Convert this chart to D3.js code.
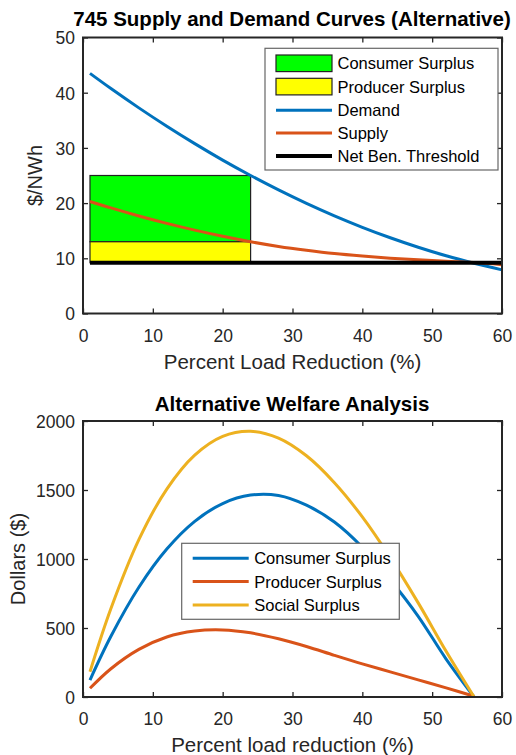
<!DOCTYPE html>
<html>
<head>
<meta charset="utf-8">
<script src="https://cdn.jsdelivr.net/npm/d3@7"></script>
<style>
  body { margin: 0; background: #fff; }
  svg { display: block; font-family: "Liberation Sans", Arial, sans-serif; }
</style>
</head>
<body>
<svg width="516" height="755"></svg>
<script>
// top chart data
const loadPct = [1, 4, 8, 12, 16, 20, 24, 28, 32, 36, 40, 44, 48, 52, 56, 60];
const demand = [43.5, 40.75, 37.25, 33.92, 30.77, 27.79, 25.0, 22.39, 19.95, 17.69, 15.62, 13.72, 12.0, 10.45, 9.1, 7.9];
const supply = [20.3, 19.13, 17.67, 16.33, 15.1, 13.99, 13.0, 12.15, 11.45, 10.85, 10.4, 10.03, 9.72, 9.45, 9.22, 8.85];
const threshold = 9.2;
const optLoad = 24;
const optDemand = 25;
const optSupply = 13;
const startLoad = 1;

// bottom chart data
const welfarePct = [1, 4, 8, 12, 16, 20, 24, 28, 32, 36, 40, 44, 48, 52, 56];
const consumerSurplus = [123, 440, 795, 1072, 1273, 1402, 1463, 1460, 1390, 1268, 1085, 850, 585, 275, 0];
const producerSurplus = [63, 205, 345, 435, 478, 486, 465, 422, 366, 302, 240, 182, 124, 66, 5];
const socialSurplus = [183, 641, 1140, 1507, 1753, 1889, 1926, 1876, 1748, 1553, 1305, 1010, 682, 331, 0];

const xTicks = [0, 10, 20, 30, 40, 50, 60];
const yTicksTop = [0, 10, 20, 30, 40, 50];
const yTicksBottom = [0, 500, 1000, 1500, 2000];

const blue = "#0072BD", orange = "#D95319", gold = "#EDB120";
const axisColor = "#262626";

const svg = d3.select("svg");

// draws a matlab style box with inward ticks on every side
const drawBox = (g, x, y, yTicks, w, h) => {
    g.append("g")
        .attr("transform", `translate(0, ${h})`)
        .call(d3.axisBottom(x).tickValues(xTicks).tickSizeInner(-5).tickSizeOuter(0).tickFormat(d3.format("d")))
        .call((a) => a.selectAll("text").attr("y", 28).attr("dy", null));
    g.append("g")
        .call(d3.axisTop(x).tickValues(xTicks).tickSizeInner(-5).tickSizeOuter(0).tickFormat(""));
    g.append("g")
        .call(d3.axisLeft(y).tickValues(yTicks).tickSizeInner(-5).tickSizeOuter(0).tickFormat(d3.format("d")))
        .call((a) => a.selectAll("text").attr("x", -8).attr("dy", "0.36em"));
    g.append("g")
        .attr("transform", `translate(${w}, 0)`)
        .call(d3.axisRight(y).tickValues(yTicks).tickSizeInner(-5).tickSizeOuter(0).tickFormat(""));
    g.selectAll(".domain").remove();
    g.selectAll(".tick line").attr("stroke", axisColor).attr("stroke-width", 1.3);
    g.selectAll(".tick text")
        .attr("fill", axisColor)
        .style("font-size", "17.5px")
        .style("font-family", "'Liberation Sans', Arial, sans-serif");
    g.append("rect")
        .attr("width", w)
        .attr("height", h)
        .attr("fill", "none")
        .attr("stroke", axisColor)
        .attr("stroke-width", 2);
};

const addLegend = (g, x0, y0, w, h, items) => {
    const lg = g.append("g").attr("transform", `translate(${x0}, ${y0})`);
    lg.append("rect")
        .attr("width", w)
        .attr("height", h)
        .attr("fill", "#fff")
        .attr("stroke", "#666")
        .attr("stroke-width", 1.2);
    items.forEach((it) => {
        const cy = it.cy;
        if (it.type === "patch") {
            lg.append("rect")
                .attr("x", 11).attr("y", cy - 8.3)
                .attr("width", 56).attr("height", 16.6)
                .attr("fill", it.color)
                .attr("stroke", "#222").attr("stroke-width", 1.2);
        } else {
            lg.append("line")
                .attr("x1", 11).attr("x2", 67)
                .attr("y1", cy).attr("y2", cy)
                .attr("stroke", it.color)
                .attr("stroke-width", it.width);
        }
        lg.append("text")
            .attr("x", 72.5).attr("y", cy)
            .attr("dy", "0.36em")
            .style("font-size", "16.5px")
            .attr("fill", "#000")
            .text(it.label);
    });
};

// ---------- top chart ----------
const m1 = { left: 83, top: 37.5, width: 419, height: 276 };
const g1 = svg.append("g").attr("transform", `translate(${m1.left}, ${m1.top})`);
const x1 = d3.scaleLinear().domain([0, 60]).range([0, m1.width]);
const y1 = d3.scaleLinear().domain([0, 50]).range([m1.height, 0]);

g1.append("rect")
    .attr("x", x1(startLoad)).attr("y", y1(optDemand))
    .attr("width", x1(optLoad) - x1(startLoad))
    .attr("height", y1(optSupply) - y1(optDemand))
    .attr("fill", "#00FF00").attr("stroke", "#222").attr("stroke-width", 1.2);
g1.append("rect")
    .attr("x", x1(startLoad)).attr("y", y1(optSupply))
    .attr("width", x1(optLoad) - x1(startLoad))
    .attr("height", y1(threshold) - y1(optSupply))
    .attr("fill", "#FFFF00").attr("stroke", "#222").attr("stroke-width", 1.2);

const line1 = (vals) => d3.line()
    .x((d, i) => x1(loadPct[i]))
    .y((d) => y1(d))
    .curve(d3.curveCatmullRom.alpha(0.5))(vals);

g1.append("path").attr("d", line1(demand))
    .attr("fill", "none").attr("stroke", blue).attr("stroke-width", 3);
g1.append("path").attr("d", line1(supply))
    .attr("fill", "none").attr("stroke", orange).attr("stroke-width", 3);
g1.append("line")
    .attr("x1", x1(startLoad)).attr("x2", x1(60))
    .attr("y1", y1(threshold)).attr("y2", y1(threshold))
    .attr("stroke", "#000").attr("stroke-width", 4);

drawBox(g1, x1, y1, yTicksTop, m1.width, m1.height);

addLegend(g1, 265 - m1.left, 48.3 - m1.top, 233, 121.7, [
    { type: "patch", color: "#00FF00", label: "Consumer Surplus", cy: 15 },
    { type: "patch", color: "#FFFF00", label: "Producer Surplus", cy: 38.3 },
    { type: "line", color: blue, width: 3, label: "Demand", cy: 62 },
    { type: "line", color: orange, width: 3, label: "Supply", cy: 84.6 },
    { type: "line", color: "#000", width: 4, label: "Net Ben. Threshold", cy: 107.7 },
]);

svg.append("text")
    .attr("x", 292).attr("y", 26)
    .attr("text-anchor", "middle")
    .style("font-size", "20.5px").style("font-weight", "bold")
    .text("745 Supply and Demand Curves (Alternative)");
svg.append("text")
    .attr("x", m1.left + m1.width / 2).attr("y", 369)
    .attr("text-anchor", "middle")
    .attr("fill", axisColor)
    .style("font-size", "20.5px")
    .text("Percent Load Reduction (%)");
svg.append("text")
    .attr("transform", `translate(42, ${m1.top + m1.height / 2}) rotate(-90)`)
    .attr("text-anchor", "middle")
    .attr("fill", axisColor)
    .style("font-size", "20px")
    .text("$/NWh");

// ---------- bottom chart ----------
const m2 = { left: 83, top: 421, width: 419, height: 276 };
const g2 = svg.append("g").attr("transform", `translate(${m2.left}, ${m2.top})`);
const x2 = d3.scaleLinear().domain([0, 60]).range([0, m2.width]);
const y2 = d3.scaleLinear().domain([0, 2000]).range([m2.height, 0]);

const line2 = (vals) => d3.line()
    .x((d, i) => x2(welfarePct[i]))
    .y((d) => y2(d))
    .curve(d3.curveCatmullRom.alpha(0.5))(vals);

const welfare = [
    { vals: consumerSurplus, color: blue, label: "Consumer Surplus" },
    { vals: producerSurplus, color: orange, label: "Producer Surplus" },
    { vals: socialSurplus, color: gold, label: "Social Surplus" },
];
welfare.forEach((s) => {
    g2.append("path").attr("d", line2(s.vals))
        .attr("fill", "none").attr("stroke", s.color).attr("stroke-width", 3);
});

drawBox(g2, x2, y2, yTicksBottom, m2.width, m2.height);

addLegend(g2, 181.7 - m2.left, 543.3 - m2.top, 217.6, 76, welfare.map((s, i) => ({
    type: "line", color: s.color, width: 3, label: s.label, cy: 15 + i * 23.3,
})));

svg.append("text")
    .attr("x", 292).attr("y", 410.7)
    .attr("text-anchor", "middle")
    .style("font-size", "20.5px").style("font-weight", "bold")
    .text("Alternative Welfare Analysis");
svg.append("text")
    .attr("x", m2.left + m2.width / 2).attr("y", 751.5)
    .attr("text-anchor", "middle")
    .attr("fill", axisColor)
    .style("font-size", "20.5px")
    .text("Percent load reduction (%)");
svg.append("text")
    .attr("transform", `translate(25, ${m2.top + m2.height / 2}) rotate(-90)`)
    .attr("text-anchor", "middle")
    .attr("fill", axisColor)
    .style("font-size", "20px")
    .text("Dollars ($)");
</script>
</body>
</html>
